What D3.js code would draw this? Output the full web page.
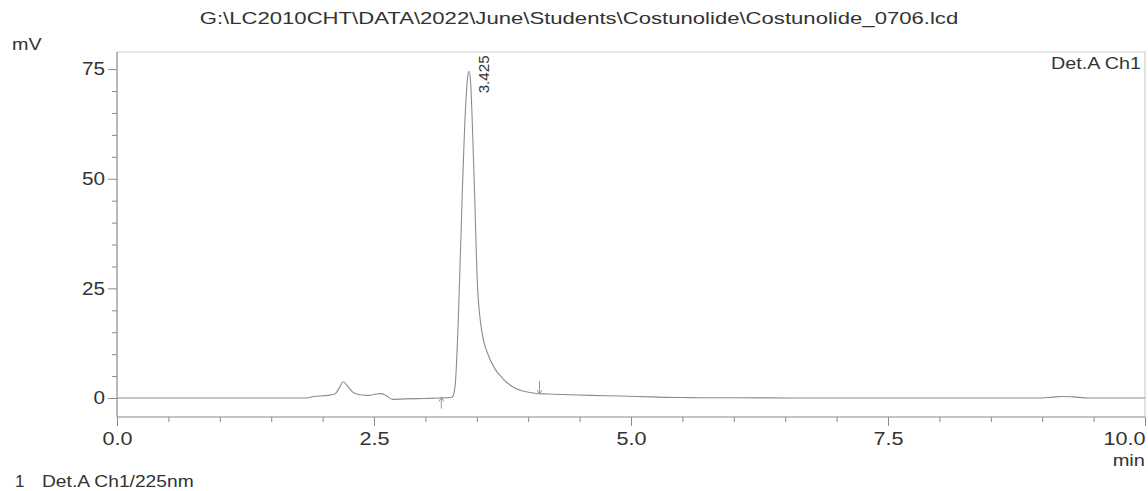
<!DOCTYPE html>
<html>
<head>
<meta charset="utf-8">
<script src="https://cdn.jsdelivr.net/npm/d3@7"></script>
<style>
  html, body { margin: 0; padding: 0; background: #fff; }
  svg { display: block; font-family: "Liberation Sans", Arial, sans-serif; }
</style>
</head>
<body>
<svg id="chart" width="1148" height="491"></svg>
<script>
// ---- data ----
const title = "G:\\LC2010CHT\\DATA\\2022\\June\\Students\\Costunolide\\Costunolide_0706.lcd";
const times = [0.0, 1.0, 1.85, 1.9, 2.05, 2.12, 2.16, 2.20, 2.24, 2.29, 2.35, 2.45, 2.52, 2.57, 2.62, 2.68, 2.8, 3.0, 3.15, 3.25,
  3.265, 3.29, 3.32, 3.36, 3.39, 3.41, 3.425, 3.44, 3.46, 3.478, 3.508, 3.558, 3.60, 3.675, 3.75, 3.875, 3.95, 4.065, 4.2,
  4.4, 4.6, 4.9, 5.2, 5.5, 6.0, 7.0, 8.0, 9.0, 9.1, 9.2, 9.3, 9.45, 10.0];
const signal = [0, 0, 0, 0.3, 0.6, 0.9, 2.2, 3.7, 2.8, 1.4, 0.8, 0.6, 0.9, 1.0, 0.5, -0.3, -0.2, -0.1, 0, 0.1,
  0.3, 3, 17.8, 47.6, 66, 73, 74.5, 72, 60, 47, 25, 14, 10.5, 6.7, 4.5, 2.2, 1.6, 1.1, 0.9,
  0.75, 0.6, 0.45, 0.25, 0.1, 0.05, 0, 0, 0, 0.2, 0.35, 0.25, 0, 0];
const peakTimes = [3.425];
const peakLabels = ["3.425"];
const integrationMarks = [3.155, 4.11];
const yTicks = [0, 25, 50, 75];
const yMinor = [5, 10, 15, 20, 30, 35, 40, 45, 55, 60, 65, 70];
const xTicks = [0, 2.5, 5, 7.5, 10];
const xTickLabels = ["0.0", "2.5", "5.0", "7.5", "10.0"];
const xMinor = [0.5, 1, 1.5, 2, 3, 3.5, 4, 4.5, 5.5, 6, 6.5, 7, 8, 8.5, 9, 9.5];
const yUnit = "mV";
const xUnit = "min";
const channelLabel = "Det.A Ch1";
const legendNo = "1";
const legendText = "Det.A Ch1/225nm";

// ---- layout ----
const svg = d3.select("#chart");
const L = 117, R = 1145, T = 52, B = 417;
const x = d3.scaleLinear().domain([0, 10]).range([L, R]);
const y = d3.scaleLinear().domain([-4.33, 78.9]).range([B, T]);
const axisColor = "#8a8a8a", textColor = "#333";

// widen glyphs horizontally (reference text is stretched)
function stretch(sel, k) {
  sel.each(function () {
    const w = this.getComputedTextLength();
    d3.select(this).attr("textLength", w * k).attr("lengthAdjust", "spacingAndGlyphs");
  });
}

// frame (top / right)
svg.append("path")
  .attr("d", `M${L},${T}H${R}V${B}`)
  .attr("fill", "none").attr("stroke", "#cfcfcf").attr("stroke-width", 1.2);

// x axis
const gx = svg.append("g").attr("transform", `translate(0,${B})`);
gx.call(d3.axisBottom(x).tickValues(xMinor).tickSize(5).tickFormat(""));
gx.call(g => g.selectAll(".domain").remove());
const gx2 = svg.append("g").attr("transform", `translate(0,${B})`)
  .call(d3.axisBottom(x).tickValues(xTicks).tickSize(9).tickSizeOuter(0)
    .tickFormat((d, i) => xTickLabels[i]));
[gx, gx2].forEach(g => {
  g.selectAll("line").attr("stroke", axisColor);
  g.selectAll("path").attr("stroke", axisColor).attr("stroke-width", 1.2);
});
gx2.selectAll("text").attr("fill", textColor).attr("font-size", 18).attr("y", 15).attr("dy", "0.71em")
  .attr("text-anchor", (d, i) => i === xTicks.length - 1 ? "end" : "middle")
  .attr("dx", 0);
stretch(gx2.selectAll("text"), 1.2);
gx2.select(".domain").attr("d", `M${L},0H${R}`);

// y axis
const gy = svg.append("g").attr("transform", `translate(${L},0)`);
gy.call(d3.axisLeft(y).tickValues(yMinor).tickSize(5).tickFormat(""));
gy.call(g => g.selectAll(".domain").remove());
const gy2 = svg.append("g").attr("transform", `translate(${L},0)`)
  .call(d3.axisLeft(y).tickValues(yTicks).tickSize(9).tickSizeOuter(0));
[gy, gy2].forEach(g => {
  g.selectAll("line").attr("stroke", axisColor);
  g.selectAll("path").attr("stroke", axisColor).attr("stroke-width", 1.2);
});
gy2.select(".domain").attr("d", `M0,${T}V${B}`);
gy2.selectAll("text").attr("fill", textColor).attr("font-size", 18).attr("x", -12);
stretch(gy2.selectAll("text"), 1.15);

// trace
const line = d3.line().x((d, i) => x(times[i])).y(d => y(d)).curve(d3.curveMonotoneX);
svg.append("path").datum(signal).attr("d", line)
  .attr("fill", "none").attr("stroke", "#8c8c8c").attr("stroke-width", 1.1);

// integration markers
const baseAt = t => { const i = d3.bisectLeft(times, t); return signal[Math.min(i, signal.length - 1)]; };
integrationMarks.forEach((t, k) => {
  const px = x(t), py = y(baseAt(t));
  if (k === 0) {
    svg.append("path").attr("d", `M${px},${py + 11}V${py - 1}M${px - 2.5},${py + 4}L${px},${py}L${px + 2.5},${py + 4}`)
      .attr("fill", "none").attr("stroke", "#999").attr("stroke-width", 1);
  } else {
    svg.append("path").attr("d", `M${px},${py - 13}V${py}M${px - 2.5},${py - 4}L${px},${py}L${px + 2.5},${py - 4}`)
      .attr("fill", "none").attr("stroke", "#999").attr("stroke-width", 1);
  }
});

// peak label
peakTimes.forEach((t, i) => {
  const txt = svg.append("text")
    .attr("transform", `translate(${x(t) + 20},${y(74.5) + 22}) rotate(-90)`)
    .attr("fill", textColor).attr("font-size", 14).attr("text-anchor", "start")
    .text(peakLabels[i]);
  stretch(txt, 1.08);
});

// texts
const tt = svg.append("text").attr("x", 579).attr("y", 24).attr("text-anchor", "middle")
  .attr("fill", textColor).attr("font-size", 17).text(title);
stretch(tt, 1.3);
stretch(svg.append("text").attr("x", 12).attr("y", 50).attr("fill", textColor).attr("font-size", 17).text(yUnit), 1.16);
stretch(svg.append("text").attr("x", R - 4).attr("y", 69).attr("text-anchor", "end")
  .attr("fill", textColor).attr("font-size", 17).text(channelLabel), 1.16);
stretch(svg.append("text").attr("x", R).attr("y", 466).attr("text-anchor", "end")
  .attr("fill", textColor).attr("font-size", 17).text(xUnit), 1.18);
svg.append("text").attr("x", 15).attr("y", 487).attr("fill", textColor).attr("font-size", 17).text(legendNo);
stretch(svg.append("text").attr("x", 42).attr("y", 487).attr("fill", textColor).attr("font-size", 17).text(legendText), 1.13);
</script>
</body>
</html>
